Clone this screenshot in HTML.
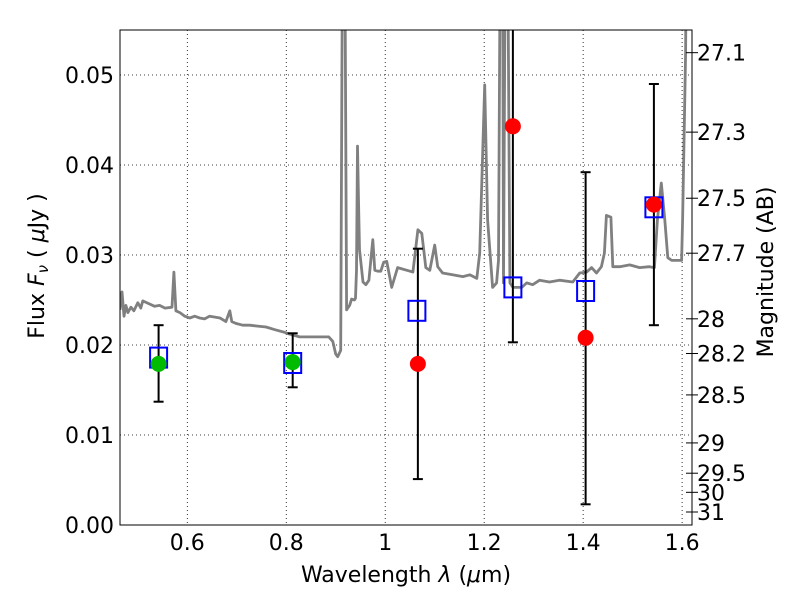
<!DOCTYPE html>
<html><head><meta charset="utf-8"><style>
body{margin:0;background:#fff;}
svg text{font-family:"DejaVu Sans","Liberation Sans",sans-serif;}
</style></head><body>
<svg id="c" width="800" height="600" xmlns="http://www.w3.org/2000/svg">
<defs><clipPath id="pc"><rect x="120" y="30" width="572" height="495"/></clipPath></defs>
<rect width="800" height="600" fill="#fff"/>
<g id="grid"></g>
<g id="spec" clip-path="url(#pc)"></g>
<g id="marks"></g>
<rect x="120" y="30" width="572" height="495" fill="none" stroke="#000" stroke-width="1"/>
<g id="axes"></g>
<text x="406" y="582" font-size="22" text-anchor="middle">Wavelength  <tspan font-style="italic">λ</tspan> (<tspan font-style="italic">μ</tspan>m)</text>
<text transform="translate(44,266) rotate(-90)" font-size="22" text-anchor="middle">Flux  <tspan font-style="italic">F<tspan font-size="15" dy="4">ν</tspan></tspan><tspan dy="-4">  ( </tspan><tspan font-style="italic">μ</tspan>Jy )</text>
<text transform="translate(773,272) rotate(-90)" font-size="22" text-anchor="middle">Magnitude (AB)</text>
</svg>
<script>
const specWave=[.464,.468,.472,.476,.480,.486,.492,.500,.506,.510,.522,.534,.544,.555,.569,.573,.577,.585,.595,.605,.615,.625,.635,.645,.656,.666,.678,.686,.690,.698,.712,.726,.742,.759,.777,.797,.807,.827,.847,.868,.886,.894,.900,.904,.910,.914,.918,.922,.928,.932,.938,.940,.942,.944,.946,.948,.955,.961,.967,.975,.979,.985,.991,.997,1.003,1.013,1.025,1.050,1.056,1.066,1.074,1.082,1.090,1.100,1.106,1.116,1.136,1.157,1.171,1.185,1.191,1.201,1.207,1.217,1.225,1.229,1.233,1.237,1.239,1.243,1.247,1.252,1.258,1.276,1.286,1.298,1.312,1.332,1.352,1.379,1.393,1.407,1.417,1.427,1.437,1.443,1.447,1.456,1.460,1.474,1.494,1.514,1.534,1.544,1.550,1.558,1.565,1.571,1.579,1.599,1.601,1.607,1.609];
const specFlux=[.0239,.0259,.0232,.0244,.0236,.0242,.0238,.0247,.0241,.0249,.0246,.0243,.0244,.0241,.0242,.0281,.0238,.0236,.0232,.0230,.0232,.0230,.0229,.0232,.0231,.0230,.0226,.0238,.0226,.0224,.0222,.0222,.0221,.0220,.0217,.0214,.0212,.0209,.0209,.0209,.0209,.0204,.0190,.0187,.0194,.07,.07,.0239,.0244,.0251,.0250,.0252,.0283,.0421,.0361,.0306,.0270,.0267,.0272,.0317,.0283,.0282,.0282,.0292,.0293,.0264,.0286,.0282,.0281,.0328,.0324,.0286,.0283,.0311,.0287,.0280,.0278,.0276,.0278,.0274,.0302,.0489,.0339,.0264,.0269,.0294,.07,.07,.0269,.07,.07,.0269,.0264,.0264,.0269,.0267,.0272,.0270,.0272,.0270,.0280,.0281,.0286,.0280,.0287,.0302,.0344,.0342,.0287,.0287,.0289,.0286,.0287,.0286,.0339,.0380,.0339,.0297,.0294,.0294,.0339,.0524,.07];
const modelWave=[0.542,0.813,1.064,1.258,1.405,1.543];
const modelFlux=[0.0186,0.0180,0.0238,0.0264,0.0260,0.0353];
const greenWave=[0.542,0.813];
const greenFlux=[0.0179,0.0181];
const greenErrLo=[0.0137,0.0153];
const greenErrHi=[0.0222,0.0213];
const redWave=[1.066,1.258,1.405,1.543];
const redFlux=[0.0179,0.0443,0.0208,0.0356];
const redErrLo=[0.0051,0.0203,0.0023,0.0222];
const redErrHi=[0.0307,0.0685,0.0392,0.0490];
const xTicks=[0.6,0.8,1.0,1.2,1.4,1.6];
const xTickLabels=["0.6","0.8","1","1.2","1.4","1.6"];
const yTicks=[0,0.01,0.02,0.03,0.04,0.05];
const yTickLabels=["0.00","0.01","0.02","0.03","0.04","0.05"];
const magTicks=[27.1,27.3,27.5,27.7,28,28.2,28.5,29,29.5,30,31];
const magTickLabels=["27.1","27.3","27.5","27.7","28","28.2","28.5","29","29.5","30","31"];

const L=120,R=692,T=30,B=525,XMIN=0.464,XMAX=1.62,YMIN=0,YMAX=0.055;
const X=v=>L+(v-XMIN)/(XMAX-XMIN)*(R-L);
const Y=v=>B-(v-YMIN)/(YMAX-YMIN)*(B-T);
const NS="http://www.w3.org/2000/svg";
function mk(tag,parent,attrs){const e=document.createElementNS(NS,tag);for(const k in attrs)e.setAttribute(k,attrs[k]);parent.appendChild(e);return e;}
const grid=document.getElementById('grid'),axes=document.getElementById('axes'),spec=document.getElementById('spec'),marks=document.getElementById('marks');

xTicks.forEach((t,i)=>{const x=X(t);
 let g=mk('line',grid,{x1:x,x2:x,y1:T,y2:B,stroke:'#000','stroke-dasharray':'1,3','stroke-width':0.8});
 
 let tx=mk('text',axes,{x:x,y:B+25,'font-size':22,'text-anchor':'middle'});tx.textContent=xTickLabels[i];
 });
yTicks.forEach((t,i)=>{const y=Y(t);
 let g=mk('line',grid,{x1:L,x2:R,y1:y,y2:y,stroke:'#000','stroke-dasharray':'1,3','stroke-width':0.8});
 
 let tx=mk('text',axes,{x:L-6,y:y+8,'font-size':22,'text-anchor':'end'});tx.textContent=yTickLabels[i];
 });
magTicks.forEach((m,i)=>{const f=Math.pow(10,(23.9-m)/2.5);const y=Y(f);
 mk('line',axes,{x1:R-6,x2:R+6,y1:y,y2:y,stroke:'#000'});
 let tx=mk('text',axes,{x:R+5,y:y+8,'font-size':22,'text-anchor':'start'});tx.textContent=magTickLabels[i];
 });

let d=specWave.map((w,i)=>(i?'L':'M')+X(w).toFixed(1)+','+Y(specFlux[i]).toFixed(1)).join('');
let p=mk('path',spec,{d:d,fill:'none',stroke:'#808080','stroke-width':2.8,'stroke-linejoin':'round'});


function errbar(w,lo,hi){const x=X(w),y1=Math.max(Y(hi),T),y2=Y(lo);
 let e=mk('line',marks,{x1:x,x2:x,y1:y1,y2:y2,stroke:'#000','stroke-width':2});
 
 if(Y(hi)>=T)mk('line',marks,{x1:x-5,x2:x+5,y1:y1,y2:y1,stroke:'#000','stroke-width':2});
 mk('line',marks,{x1:x-5,x2:x+5,y1:y2,y2:y2,stroke:'#000','stroke-width':2});}
greenWave.forEach((w,i)=>errbar(w,greenErrLo[i],greenErrHi[i]));
redWave.forEach((w,i)=>errbar(w,redErrLo[i],redErrHi[i]));
modelWave.forEach((w,i)=>{let r=mk('rect',marks,{x:X(w)-8.5,y:Y(modelFlux[i])-10,width:17,height:20,fill:'none',stroke:'#0000ff','stroke-width':2});
 });
greenWave.forEach((w,i)=>{let c=mk('circle',marks,{cx:X(w),cy:Y(greenFlux[i]),r:8,fill:'#00bb00'});
 });
redWave.forEach((w,i)=>{let c=mk('circle',marks,{cx:X(w),cy:Y(redFlux[i]),r:8,fill:'#ff0000'});
 });
</script>
</body></html>
